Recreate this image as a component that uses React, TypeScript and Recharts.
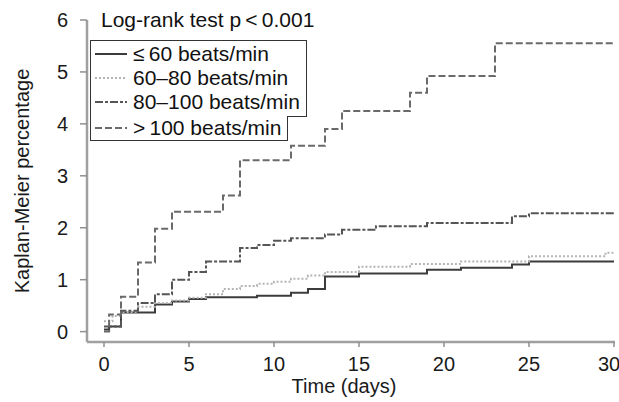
import { LineChart, Line, XAxis, YAxis, Legend, Label } from "recharts";

const FONT = '"Liberation Sans", Arial, sans-serif';

// days / Kaplan-Meier % per heart-rate group
const le60Time = [0, 0.3, 1, 3, 4, 5, 6, 9, 11, 12, 13, 15, 19, 21, 24, 25, 30];
const le60Pct = [0.04, 0.1, 0.37, 0.52, 0.58, 0.63, 0.66, 0.69, 0.75, 0.82, 1.06, 1.12, 1.19, 1.23, 1.29, 1.35, 1.35];

const r60to80Time = [0, 0.5, 1, 2, 3, 4, 5, 6, 7, 8, 9, 10, 11, 12, 13, 15, 18, 21, 25, 29.5, 30];
const r60to80Pct = [0.2, 0.3, 0.38, 0.48, 0.55, 0.6, 0.65, 0.72, 0.82, 0.88, 0.92, 0.96, 1.02, 1.08, 1.15, 1.25, 1.3, 1.35, 1.45, 1.52, 1.52];

const r80to100Time = [0, 1, 2, 3, 4, 5, 6, 8, 9, 10, 11, 13, 14, 16, 19, 24, 25, 30];
const r80to100Pct = [0.1, 0.4, 0.55, 0.72, 1.0, 1.15, 1.35, 1.61, 1.67, 1.75, 1.8, 1.87, 1.96, 2.03, 2.09, 2.22, 2.28, 2.28];

const gt100Time = [0, 0.3, 1, 2, 3, 4, 7, 8, 11, 13, 14, 18, 19, 23, 30];
const gt100Pct = [0, 0.33, 0.67, 1.33, 1.98, 2.31, 2.62, 3.3, 3.58, 3.9, 4.25, 4.6, 4.92, 5.55, 5.55];

const groupNames = ["\u2264\u200960 beats/min", "60\u201380 beats/min", "80\u2013100 beats/min", ">\u2009100 beats/min"];

const xTicks = [0, 5, 10, 15, 20, 25, 30];
const yTicks = [0, 1, 2, 3, 4, 5, 6];

const toRows = (t: number[], v: number[]) => t.map((d, i) => ({ t: d, v: v[i] }));

const series = [
  { name: groupNames[0], data: toRows(le60Time, le60Pct), stroke: "#3c3c3c", dash: undefined as string | undefined },
  { name: groupNames[1], data: toRows(r60to80Time, r60to80Pct), stroke: "#b4b4b4", dash: "2 2" },
  { name: groupNames[2], data: toRows(r80to100Time, r80to100Pct), stroke: "#555555", dash: "8 2 3 2" },
  { name: groupNames[3], data: toRows(gt100Time, gt100Pct), stroke: "#6a6a6a", dash: "7 3" },
];

function LegendRow({ s }: { s: (typeof series)[number] }) {
  return (
    <div style={{ display: "flex", alignItems: "center", height: 24 }}>
      <svg width={38} height={10} style={{ flex: "none" }}>
        <line x1={0} y1={5} x2={32} y2={5} stroke={s.stroke} strokeWidth={2} strokeDasharray={s.dash} />
      </svg>
      <span style={{ whiteSpace: "nowrap" }}>{s.name}</span>
    </div>
  );
}

function KmLegend() {
  return (
    <div style={{ fontFamily: FONT, fontSize: 21, color: "#111", lineHeight: "24px" }}>
      <div style={{ width: 217, boxSizing: "border-box", border: "1px solid #333", padding: "1px 0 2px 4px" }}>
        {series.slice(0, 3).map((s) => (
          <LegendRow key={s.name} s={s} />
        ))}
      </div>
      <div
        style={{
          width: 198,
          boxSizing: "border-box",
          marginTop: -1,
          background: "#fff",
          borderLeft: "1px solid #333",
          borderRight: "1px solid #333",
          borderBottom: "1px solid #333",
          padding: "0 0 0 4px",
        }}
      >
        <LegendRow s={series[3]} />
      </div>
    </div>
  );
}

export default function App() {
  const tickStyle = { fill: "#1a1a1a", fontSize: 20, fontFamily: FONT };
  return (
    <div style={{ position: "absolute", left: 0, top: 0, width: 619, height: 402, background: "#fff" }}>
      <LineChart width={619} height={402} margin={{ top: 20, right: 4, bottom: 30, left: 0 }}>
        <XAxis
          dataKey="t"
          type="number"
          domain={[-1, 30.06]}
          ticks={xTicks}
          allowDataOverflow
          height={30}
          tickSize={5}
          tickMargin={10}
          axisLine={{ stroke: "#a0a0a0", strokeWidth: 2.5 }}
          tickLine={{ stroke: "#909090", strokeWidth: 1.5 }}
          tick={tickStyle}
        >
          <Label
            content={({ viewBox }: any) => (
              <text x={viewBox.x + viewBox.width / 2 - 7} y={viewBox.y + 51} textAnchor="middle" fontSize={20} fontFamily={FONT} fill="#1a1a1a">
                Time (days)
              </text>
            )}
          />
        </XAxis>
        <YAxis
          type="number"
          domain={[-0.2, 6]}
          ticks={yTicks}
          allowDataOverflow
          width={87}
          tickSize={7}
          tickMargin={12}
          axisLine={{ stroke: "#a0a0a0", strokeWidth: 2.5 }}
          tickLine={{ stroke: "#909090", strokeWidth: 1.5 }}
          tick={tickStyle}
        >
          <Label
            content={({ viewBox }: any) => {
              const cy = viewBox.y + viewBox.height / 2;
              return (
                <text x={22} y={cy} transform={`rotate(-90 22 ${cy})`} textAnchor="middle" dominantBaseline="central" fontSize={20} fontFamily={FONT} fill="#1a1a1a">
                  Kaplan-Meier percentage
                </text>
              );
            }}
          />
        </YAxis>
        <Legend layout="vertical" align="center" verticalAlign="middle" content={() => <KmLegend />} wrapperStyle={{ left: 90, top: 40, width: "auto" }} />
        {series.map((s) => (
          <Line
            key={s.name}
            name={s.name}
            data={s.data}
            dataKey="v"
            type="stepAfter"
            stroke={s.stroke}
            strokeWidth={2}
            strokeDasharray={s.dash}
            dot={false}
            activeDot={false}
            isAnimationActive={false}
          />
        ))}
      </LineChart>
      <div style={{ position: "absolute", left: 101, top: 9, fontFamily: FONT, fontSize: 21, lineHeight: "21px", color: "#111", whiteSpace: "nowrap" }}>
        Log-rank test p{"\u2009"}&lt;{"\u2009"}0.001
      </div>
    </div>
  );
}
